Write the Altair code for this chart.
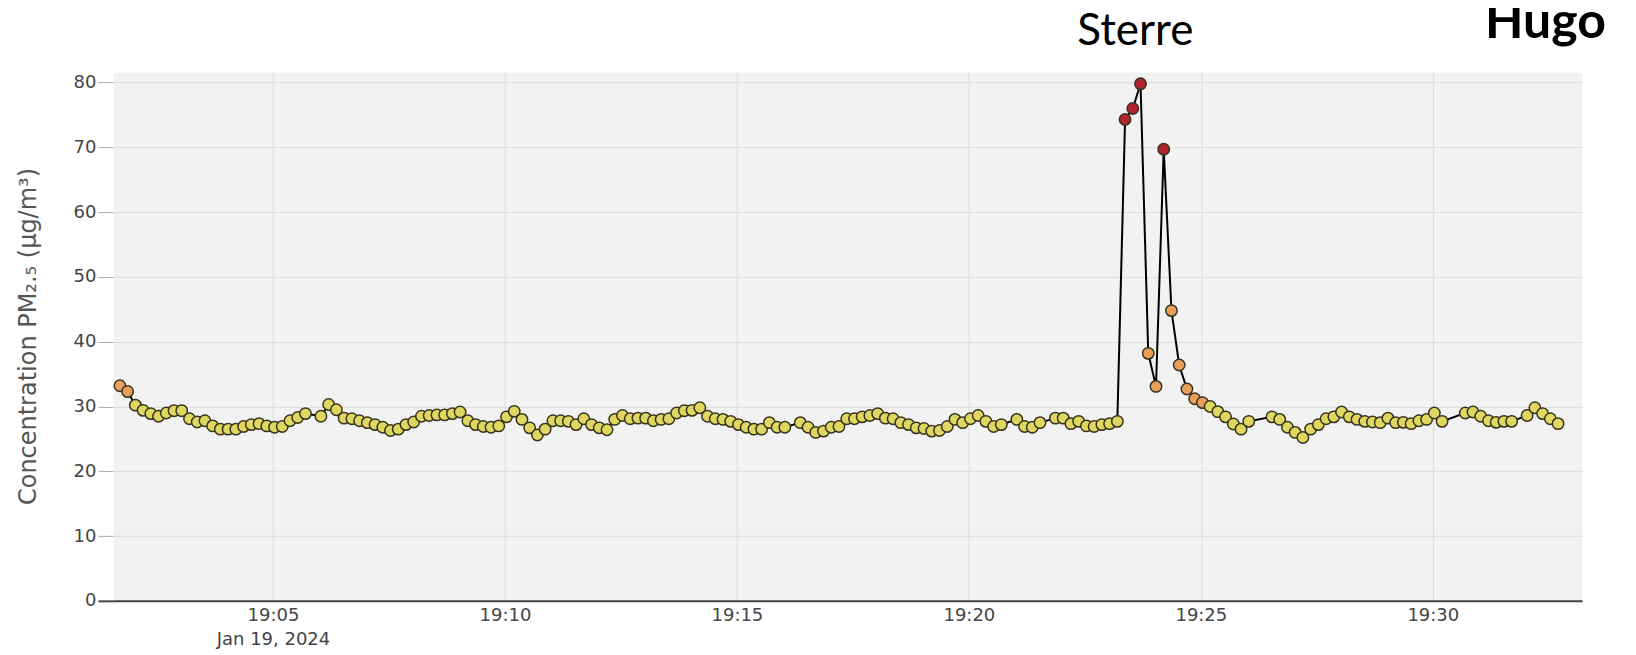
import altair as alt
import pandas as pd
import numpy as np

# seconds after 19:00:00 on Jan 19, 2024
secs = [
    102, 112, 122, 132, 142, 152, 162, 172, 182, 192,
    202, 212, 222, 232, 242, 252, 262, 272, 282, 292,
    302, 312, 322, 332, 342,
    362, 372, 382, 392, 402, 412, 422, 432, 442, 452,
    462, 472, 482, 492, 502, 512, 522, 532, 542, 552,
    562, 572, 582, 592, 602, 612, 622, 632, 642, 652,
    662, 672, 682, 692, 702, 712, 722, 732, 742, 752,
    762, 772, 782, 792, 802, 812, 822, 832, 842, 852,
    862, 872, 882, 892, 902, 912, 922, 932, 942, 952,
    962,
    982, 992, 1002, 1012, 1022, 1032, 1042, 1052, 1062, 1072,
    1082, 1092, 1102, 1112, 1122, 1132, 1142, 1152, 1162, 1172,
    1182, 1192, 1202, 1212, 1222, 1232, 1242,
    1262, 1272, 1282, 1292,
    1312, 1322, 1332, 1342, 1352, 1362, 1372, 1382, 1392, 1402,
    1412, 1422, 1432, 1442, 1452, 1462, 1472, 1482, 1492, 1502,
    1512, 1522, 1532, 1542, 1552, 1562,
    1592, 1602, 1612, 1622, 1632, 1642, 1652, 1662, 1672, 1682,
    1692, 1702, 1712, 1722, 1732, 1742, 1752, 1762, 1772, 1782,
    1792, 1802, 1812,
    1842, 1852, 1862, 1872, 1882, 1892, 1902,
    1922, 1932, 1942, 1952, 1962,
]

pm25 = [
    33.2, 32.3, 30.2, 29.4, 28.9, 28.5, 29.0, 29.35, 29.35, 28.1,
    27.6, 27.8, 27.0, 26.5, 26.5, 26.5, 26.9, 27.2, 27.35, 27.0,
    26.8, 26.9, 27.8, 28.3, 28.9,
    28.5, 30.3, 29.5, 28.2, 28.1, 27.8, 27.5, 27.2, 26.8, 26.3,
    26.5, 27.2, 27.6, 28.5, 28.6, 28.7, 28.7, 28.9, 29.15, 27.8,
    27.2, 26.9, 26.8, 27.0, 28.4, 29.25, 28.0, 26.7, 25.6, 26.5,
    27.8, 27.8, 27.7, 27.2, 28.1, 27.2, 26.7, 26.4, 28.0, 28.6,
    28.1, 28.2, 28.2, 27.8, 28.0, 28.1, 29.0, 29.35, 29.4, 29.8,
    28.5, 28.1, 28.0, 27.7, 27.2, 26.8, 26.5, 26.5, 27.5, 26.8,
    26.8,
    27.5, 26.8, 26.0, 26.2, 26.8, 26.9, 28.1, 28.1, 28.4, 28.6,
    28.9, 28.2, 28.1, 27.5, 27.2, 26.7, 26.6, 26.2, 26.3, 26.9,
    28.0, 27.5, 28.1, 28.6, 27.7, 26.9, 27.2,
    28.0, 26.9, 26.8, 27.5,
    28.2, 28.2, 27.35, 27.7, 27.0, 26.9, 27.2, 27.35, 27.7, 74.3,
    76.0, 79.8, 38.2, 33.1, 69.7, 44.8, 36.4, 32.7, 31.2, 30.6,
    30.0, 29.2, 28.4, 27.3, 26.5, 27.7,
    28.4, 28.0, 26.8, 26.0, 25.2, 26.5, 27.2, 28.1, 28.4, 29.15,
    28.4, 28.0, 27.7, 27.6, 27.5, 28.2, 27.5, 27.55, 27.35, 27.8,
    28.0, 29.0, 27.7,
    29.0, 29.15, 28.5, 27.8, 27.55, 27.7, 27.7,
    28.6, 29.8, 28.9, 28.1, 27.35,
]

y_ticks = [0, 10, 20, 30, 40, 50, 60, 70, 80]
x_tick_minutes = [5, 10, 15, 20, 25, 30]
level_names = ["normal", "elevated", "high"]
level_colors = ["#e0d760", "#e79f5a", "#b3222e"]
label_left = "Sterre"
label_right = "Hugo"
y_title = "Concentration PM₂.₅ (µg/m³)"

base = pd.Timestamp("2024-01-19 19:00:00")
df = pd.DataFrame({
    "time": [(base + pd.Timedelta(seconds=s)).strftime("%Y-%m-%dT%H:%M:%S") for s in secs],
    "pm": pm25,
})
vals = np.array(pm25)
df["level"] = np.where(vals > 55, "high", np.where(vals > 30.5, "elevated", "normal"))


def dt(m, s=0):
    return alt.DateTime(year=2024, month=1, date=19, hours=19, minutes=m, seconds=s)


x_enc = alt.X(
    "time:T",
    scale=alt.Scale(domain=[dt(1, 33), dt(33, 13)]),
    axis=alt.Axis(
        values=[dt(m) for m in x_tick_minutes],
        labelExpr="timeFormat(datum.value, '%H:%M') == '19:05' ? [timeFormat(datum.value, '%H:%M'), timeFormat(datum.value, '%b %d, %Y')] : timeFormat(datum.value, '%H:%M')",
        title=None,
        ticks=False,
        domainColor="#444444",
        domainWidth=2,
        gridColor="#dcdcdc",
        gridWidth=1,
        labelFont="DejaVu Sans",
        labelFontSize=18,
        labelColor="#444444",
        labelPadding=6,
        labelLineHeight=24,
        labelBaseline="top",
    ),
)

y_enc = alt.Y(
    "pm:Q",
    scale=alt.Scale(domain=[0, 81.6], nice=False, zero=True),
    axis=alt.Axis(
        values=y_ticks,
        title=y_title,
        titleFont="DejaVu Sans",
        titleFontSize=24,
        titleFontWeight="normal",
        titleColor="#555555",
        titleX=-84,
        titleY=264,
        titleAngle=-90,
        titleAlign="center",
        titleBaseline="middle",
        domain=False,
        tickSize=15,
        tickColor={"condition": {"test": "datum.value === 0", "value": "#444444"}, "value": "#aaaaaa"},
        tickWidth={"condition": {"test": "datum.value === 0", "value": 2}, "value": 1},
        labelPadding=2,
        labelFont="DejaVu Sans",
        labelFontSize=18,
        labelColor="#444444",
        gridColor="#dcdcdc",
        gridWidth=1,
    ),
)

line = alt.Chart(df).mark_line(color="black", strokeWidth=2).encode(x=x_enc, y=y_enc)

points = alt.Chart(df).mark_circle(size=130, opacity=1, stroke="#36341f", strokeWidth=1.5).encode(
    x="time:T",
    y="pm:Q",
    color=alt.Color("level:N", scale=alt.Scale(domain=level_names, range=level_colors), legend=None),
)

t1 = alt.Chart(pd.DataFrame({"t": [label_left]})).mark_text(
    font="Lato", fontSize=44, align="left", baseline="alphabetic", color="black"
).encode(x=alt.value(965), y=alt.value(-27), text="t:N")

t2 = alt.Chart(pd.DataFrame({"t": [label_right]})).mark_text(
    font="Lato", fontSize=50, fontWeight="bold", align="left", baseline="alphabetic", color="black"
).encode(x=alt.value(1373), y=alt.value(-34), text="t:N")

chart = alt.layer(line, points, t1, t2).properties(
    width=1470,
    height=529,
    autosize=alt.AutoSizeParams(type="none"),
    padding={"left": 105, "top": 64, "right": 46, "bottom": 52},
    background="white",
).configure_view(fill="#f2f2f2", stroke="transparent")

chart.save("out.html", embed_options={"renderer": "svg", "actions": False})
